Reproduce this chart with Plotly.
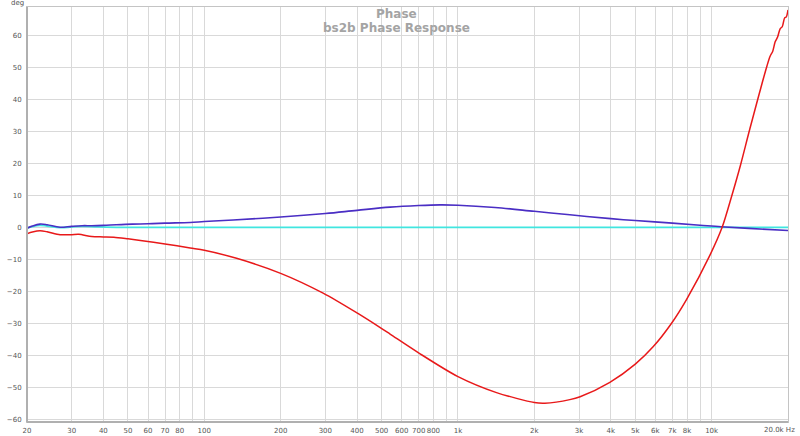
import plotly.graph_objects as go
import math

# ---- data ----
purple_freq = [20, 21, 22.5, 24, 27, 30, 33, 36, 40, 45, 52, 60, 70, 88, 100, 130, 200,
               300, 400, 540, 700, 850, 1000, 1400, 2000, 2760, 4000, 5000, 7000, 9000,
               10900, 14000, 20000]
purple_deg = [-0.3, 0.4, 1.0, 0.8, 0.0, 0.3, 0.5, 0.5, 0.6, 0.8, 1.0, 1.1, 1.3, 1.5, 1.8,
              2.3, 3.2, 4.3, 5.3, 6.3, 6.8, 7.0, 6.9, 6.2, 5.0, 3.9, 2.7, 2.1, 1.3, 0.65,
              0.15, -0.35, -1.0]

cyan_freq = [20, 21, 22.5, 24, 27, 30, 33, 38, 45, 20000]
cyan_deg = [-0.3, 0.2, 0.6, 0.4, -0.1, 0.1, 0.3, 0.1, 0.0, 0.0]

red_freq = [20, 21, 22.5, 24, 27, 30, 32, 36, 40, 44, 50, 56, 70, 88, 100, 134, 200, 294,
            400, 492, 540, 697, 1000, 1419, 2000, 2200, 2760, 3030, 3970, 5000, 5890, 6950,
            7960, 9850, 11000, 12000, 13000, 14150, 16500, 17000, 17400, 17800, 18200,
            18600, 19000, 19400, 19700, 20000]
red_deg = [-2.0, -1.5, -1.1, -1.4, -2.3, -2.3, -2.2, -2.9, -3.0, -3.1, -3.6, -4.1, -5.2,
           -6.5, -7.2, -9.7, -14.4, -20.6, -26.8, -31.3, -33.4, -39.2, -46.7, -51.7,
           -54.8, -55.0, -53.9, -53.0, -48.5, -42.8, -37.3, -30.0, -22.6, -8.7, 0.0, 9.8,
           19.5, 30.8, 50.3, 53.5, 55.0, 58.0, 59.5, 62.0, 62.8, 65.5, 65.8, 68.0]

x_tickvals = [20, 30, 40, 50, 60, 70, 80, 90, 100, 200, 300, 400, 500, 600, 700, 800, 900,
              1000, 2000, 3000, 4000, 5000, 6000, 7000, 8000, 9000, 10000, 20000]
x_ticktext = ["20", "30", "40", "50", "60", "70", "80", "", "100", "200", "300", "400",
              "500", "600", "700", "800", "", "1k", "2k", "3k", "4k", "5k", "6k", "7k",
              "8k", "", "10k", ""]
y_tickvals = [-60, -50, -40, -30, -20, -10, 0, 10, 20, 30, 40, 50, 60]

title_lines = ["Phase", "bs2b Phase Response"]

fig = go.Figure()
fig.add_trace(go.Scatter(x=cyan_freq, y=cyan_deg, mode="lines",
                         line=dict(color="#40e6e0", width=1.8, shape="spline"),
                         hoverinfo="skip"))
fig.add_trace(go.Scatter(x=purple_freq, y=purple_deg, mode="lines",
                         line=dict(color="#4a2ec4", width=1.6, shape="spline"),
                         hoverinfo="skip"))
fig.add_trace(go.Scatter(x=red_freq, y=red_deg, mode="lines",
                         line=dict(color="#e8191a", width=1.5, shape="spline", smoothing=0.8),
                         hoverinfo="skip"))

tickfont = dict(family="DejaVu Sans", size=7, color="#555555")

fig.update_layout(
    width=800, height=436,
    margin=dict(l=27, r=12, t=7, b=14, autoexpand=False),
    paper_bgcolor="white", plot_bgcolor="white",
    showlegend=False,
    xaxis=dict(type="log", range=[math.log10(20), math.log10(20000)],
               tickvals=x_tickvals, ticktext=x_ticktext, tickfont=tickfont,
               tickangle=0, automargin=False,
               showgrid=True, gridcolor="#d9d9d9", gridwidth=1, zeroline=False,
               showline=True, mirror=True, linecolor="#c4c4c4", linewidth=1,
               ticks="", ticklabelstandoff=2),
    yaxis=dict(range=[-60.9, 68.9], tickvals=y_tickvals, tickfont=tickfont,
               automargin=False,
               showgrid=True, gridcolor="#d9d9d9", gridwidth=1, zeroline=False,
               showline=True, mirror=True, linecolor="#c4c4c4", linewidth=1,
               ticks="", ticklabelstandoff=3),
    shapes=[
        dict(type="line", xref="paper", yref="paper", x0=0, x1=0, y0=0, y1=1,
             line=dict(color="#b0b0b0", width=2)),
        dict(type="line", xref="paper", yref="paper", x0=0, x1=1, y0=0, y1=0,
             line=dict(color="#b0b0b0", width=2)),
    ],
    annotations=[
        dict(text="<b>" + title_lines[0] + "</b>", xref="paper", yref="paper", x=0.4855, y=0.982,
             xanchor="center", yanchor="middle", showarrow=False,
             font=dict(family="DejaVu Sans", size=12, color="#a4a4a4")),
        dict(text="<b>" + title_lines[1] + "</b>", xref="paper", yref="paper", x=0.4855, y=0.949,
             xanchor="center", yanchor="middle", showarrow=False,
             font=dict(family="DejaVu Sans", size=12, color="#a4a4a4")),
        dict(text="deg", xref="paper", yref="paper", x=-0.013, y=1.01,
             xanchor="center", yanchor="middle", showarrow=False,
             font=dict(family="DejaVu Sans", size=7, color="#555555")),
        dict(text="20.0k Hz", xref="paper", yref="paper", x=1.0115, y=-0.02,
             xanchor="right", yanchor="middle", showarrow=False,
             font=tickfont),
    ],
)

fig.write_html("out.html", config={"displayModeBar": False},
               post_script="document.body.style.margin='0';document.body.style.overflow='hidden';")
